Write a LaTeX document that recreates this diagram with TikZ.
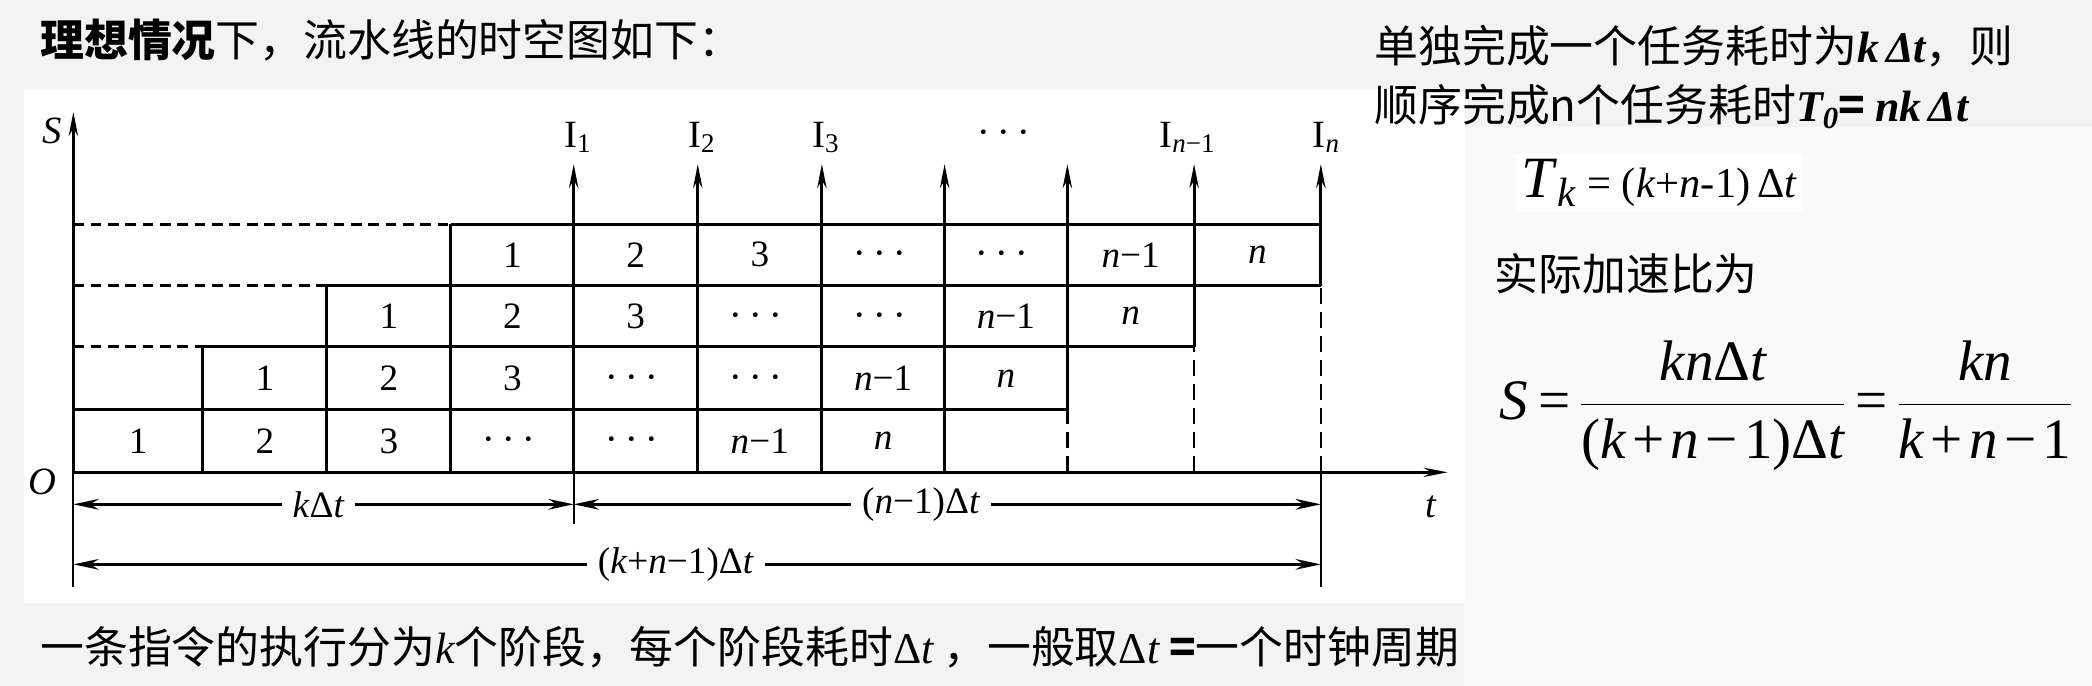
\RequirePackage{fix-cm}
\documentclass[tikz,border=0pt]{standalone}
\usepackage{fontspec}
\usepackage{amsmath}
\setmainfont{Liberation Serif}
\newfontfamily\cjk{Noto Sans CJK SC}
\usetikzlibrary{arrows.meta,calc}
\definecolor{bggray}{HTML}{F3F3F3}
\definecolor{panelgray}{HTML}{F9F9F9}
\newcommand{\celldots}{{\fontsize{34}{34}\selectfont$\cdots$}}
\begin{document}
\begin{tikzpicture}[x=1bp,y=-1bp,
  grid/.style={line width=2.2bp},
  gdash/.style={line width=2.2bp, dash pattern=on 8bp off 5bp},
  vdash/.style={line width=2bp, dash pattern=on 12bp off 6bp},
  iarrow/.style={line width=2.2bp, -{Stealth[length=18bp,width=7bp]}},
  dimline/.style={line width=2bp, {Stealth[length=19bp,width=8bp]}-{Stealth[length=19bp,width=8bp]}},
  thinl/.style={line width=1.6bp},
  cell/.style={font=\fontsize{28}{30}\selectfont, inner sep=0pt},
  lbl/.style={font=\fontsize{29}{31}\selectfont, inner sep=0pt},
  dimlbl/.style={font=\fontsize{28}{30}\selectfont, fill=white, inner xsep=8bp, inner ysep=2bp},
  cjktext/.style={font=\fontsize{33}{38}\selectfont\cjk, anchor=west, inner sep=0pt},
]
\useasboundingbox (0,0) rectangle (1568,514);
\fill[bggray] (0,0) rectangle (1568,514);
\fill[panelgray] (1097,95) rectangle (1568,514);
\fill[white] (18,67) rectangle (1098,452);

% grid coordinates
\foreach \i/\x in {0/55,1/152,2/245,3/338,4/430,5/523,6/616,7/708,8/800,9/895,10/990}{
  \foreach \j/\y in {0/354,1/307,2/260,3/214,4/168}{
    \coordinate (g\i-\j) at (\x,\y);
  }
  \coordinate (top\i) at (\x,123);
}
\coordinate (sbot) at (55,440);
\coordinate (stop) at (55,84);
\coordinate (tend) at (1085,354);
\coordinate (i1bot) at (430,393);
\coordinate (rbot) at (990,440);
\coordinate (d1a) at (55,378);
\coordinate (d1b) at (430,378);
\coordinate (d2b) at (990,378);
\coordinate (d3a) at (55,423);
\coordinate (d3b) at (990,423);

% axes
\draw[thinl] (sbot) -- (g0-0);
\draw[iarrow] (g0-0) -- (stop);
\draw[iarrow] (g0-0) -- (tend);

% horizontal row lines
\draw[grid] (g0-1) -- (g8-1);
\draw[gdash] (g0-2) -- (g1-2);
\draw[grid] (g1-2) -- (g9-2);
\draw[gdash] (g0-3) -- (g2-3);
\draw[grid] (g2-3) -- (g10-3);
\draw[gdash] (g0-4) -- (g3-4);
\draw[grid] (g3-4) -- (g10-4);

% vertical lines
\draw[grid] (g1-0) -- (g1-2);
\draw[grid] (g2-0) -- (g2-3);
\draw[grid] (g3-0) -- (g3-4);
\draw[thinl] (i1bot) -- (g4-0);
\draw[iarrow] (g4-0) -- (top4);
\draw[iarrow] (g5-0) -- (top5);
\draw[iarrow] (g6-0) -- (top6);
\draw[iarrow] (g7-0) -- (top7);
\draw[iarrow] (g8-1) -- (top8);
\draw[vdash] (g8-0) -- (g8-1);
\draw[iarrow] (g9-2) -- (top9);
\draw[vdash] (g9-0) -- (g9-2);
\draw[iarrow] (g10-3) -- (top10);
\draw[vdash] (g10-0) -- (g10-3);
\draw[thinl] (g10-0) -- (rbot);

% cell labels
\foreach \r in {1,...,4}{
  \foreach \t [count=\c from 0] in {1,2,3,\celldots,\celldots,\textit{n}−1,\textit{n}}{
    \pgfmathtruncatemacro{\k}{\r-1+\c}
    \pgfmathtruncatemacro{\kp}{\k+1}
    \pgfmathtruncatemacro{\rr}{\r-1}
    \node[cell] (cell\r-\c) at ($(g\k-\rr)!0.5!(g\kp-\r)$) {\t};
  }
}

% axis labels
\node[lbl] (slab) at (39,98) {\textit{S}};
\node[lbl] (olab) at (32,361) {\textit{O}};
\node[lbl] (tlab) at (1073,380) {\textit{t}};

% instruction labels
\node[lbl] (I1) at (433,103) {I\textsubscript{1}};
\node[lbl] (I2) at (526,103) {I\textsubscript{2}};
\node[lbl] (I3) at (619,103) {I\textsubscript{3}};
\node[lbl] (Idots) at (755,100) {\celldots};
\node[lbl] (In1) at (890,103) {I\textsubscript{\textit{n}−1}};
\node[lbl] (In) at (994,103) {I\textsubscript{\textit{n}}};

% dimension lines
\draw[dimline] (d1a) -- node[dimlbl, pos=0.49] (dk) {\textit{k}Δ\textit{t}} (d1b);
\draw[dimline] (d1b) -- node[dimlbl, pos=0.465] (dn) {(\textit{n}−1)Δ\textit{t}} (d2b);
\draw[dimline] (d3a) -- node[dimlbl, pos=0.483] (dkn) {(\textit{k}+\textit{n}−1)Δ\textit{t}} (d3b);

% texts
\node[cjktext] (title) at (30,30) {{\bfseries 理想情况}下，流水线的时空图如下：};
\node[cjktext] (bottom) at (30,485) {一条指令的执行分为{\rmfamily\itshape k}个阶段，每个阶段耗时{\rmfamily Δ\itshape t} ，一般取{\rmfamily Δ\itshape t} {\bfseries =}一个时钟周期};
\node[cjktext] (r1) at (1030,35) {单独完成一个任务耗时为{\rmfamily\bfseries\itshape k\,Δt}，则};
\node[cjktext] (r2) at (1030,80) {顺序完成n个任务耗时{\rmfamily\bfseries\itshape T\textsubscript{0}}{\bfseries =} {\rmfamily\bfseries\itshape nk\,Δt}};
\node[anchor=west, fill=white, inner sep=4bp] (tk) at (1136,137) {\fontsize{44}{46}\selectfont\textit{T}\textsubscript{\textit{k}}\fontsize{32}{34}\selectfont{} = (\textit{k}+\textit{n}-1)\,Δ\textit{t}};
\node[cjktext] (speed) at (1120,205) {实际加速比为};
\node[anchor=west, inner sep=0pt] (sf) at (1124,304) {\fontsize{43}{50}\selectfont\medmuskip=2mu\thickmuskip=3mu
  $\textit{S}\mathrel{\textrm{=}}\dfrac{\textit{kn}\textrm{Δ}\textit{t}}{\textrm{(}\textit{k}\mathbin{\textrm{+}}\textit{n}\mathbin{\textrm{−}}\textrm{1)Δ}\textit{t}}\mathrel{\textrm{=}}\dfrac{\textit{kn}}{\textit{k}\mathbin{\textrm{+}}\textit{n}\mathbin{\textrm{−}}\textrm{1}}$};
\end{tikzpicture}
\end{document}
